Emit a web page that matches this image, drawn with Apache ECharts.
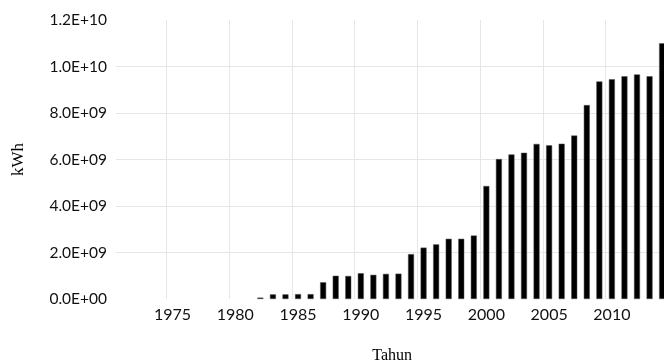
<!DOCTYPE html>
<html>
<head>
<meta charset="utf-8">
<script src="https://cdn.jsdelivr.net/npm/echarts@6/dist/echarts.min.js"></script>
<style>html,body{margin:0;padding:0;background:#fff}#c{width:664px;height:364px}</style>
</head>
<body>
<div id="c"></div>
<script>
const years = ['1971','1972','1973','1974','1975','1976','1977','1978','1979','1980',
  '1981','1982','1983','1984','1985','1986','1987','1988','1989','1990',
  '1991','1992','1993','1994','1995','1996','1997','1998','1999','2000',
  '2001','2002','2003','2004','2005','2006','2007','2008','2009','2010',
  '2011','2012','2013','2014'];
const kwh = [null,null,null,null,null,null,null,null,null,null,
  null,6.0e7,2.0e8,2.0e8,2.1e8,2.1e8,7.2e8,1.0e9,0.99e9,1.11e9,
  1.04e9,1.08e9,1.09e9,1.93e9,2.21e9,2.35e9,2.59e9,2.59e9,2.73e9,4.86e9,
  6.02e9,6.22e9,6.29e9,6.67e9,6.61e9,6.68e9,7.03e9,8.34e9,9.36e9,9.45e9,
  9.58e9,9.66e9,9.58e9,1.10e10];
const yTitle = 'kWh';
const xTitle = 'Tahun';

function fmtExp(v){
  if (v === 0) return '0.0E+00';
  const s = v.toExponential(1);
  const [m, e] = s.split('e');
  const sign = e[0] === '-' ? '-' : '+';
  let d = e.replace(/[+-]/,'');
  if (d.length < 2) d = '0' + d;
  return m + 'E' + sign + d;
}
const isFive = (i) => parseInt(years[i], 10) % 5 === 0;

const chart = echarts.init(document.getElementById('c'), null, {renderer:'canvas'});
chart.setOption({
  animation: false,
  backgroundColor: '#ffffff',
  grid: { left: 116, top: 20, width: 552.4, height: 279, containLabel: false, outerBoundsMode: 'none' },
  xAxis: {
    type: 'category',
    data: years,
    boundaryGap: true,
    name: xTitle,
    nameLocation: 'middle',
    nameGap: 49,
    nameTextStyle: { fontFamily: 'Liberation Serif', fontSize: 16, color: '#000' },
    axisLine: { show: false },
    axisTick: { show: false },
    axisLabel: { interval: (i) => isFive(i), fontFamily: 'Lato', fontSize: 16, color: '#111', margin: 8 },
    splitLine: { show: true, interval: (i) => isFive(i), lineStyle: { color: '#e6e6e6', width: 1 } }
  },
  yAxis: {
    type: 'value',
    min: 0, max: 1.2e10, interval: 2e9,
    name: yTitle,
    nameLocation: 'middle',
    nameRotate: 90,
    nameGap: 89,
    nameTextStyle: { fontFamily: 'Liberation Serif', fontSize: 17, color: '#000' },
    axisLine: { show: false },
    axisTick: { show: false },
    axisLabel: { formatter: fmtExp, fontFamily: 'Lato', fontSize: 15.5, color: '#111', margin: 9 },
    splitLine: { show: true, showMinLine: false, showMaxLine: false, lineStyle: { color: '#e6e6e6', width: 1 } }
  },
  series: [{
    type: 'bar',
    data: kwh,
    barWidth: 6,
    itemStyle: { color: '#000', borderColor: '#555', borderWidth: 0.5 }
  }]
});
</script>
</body>
</html>
